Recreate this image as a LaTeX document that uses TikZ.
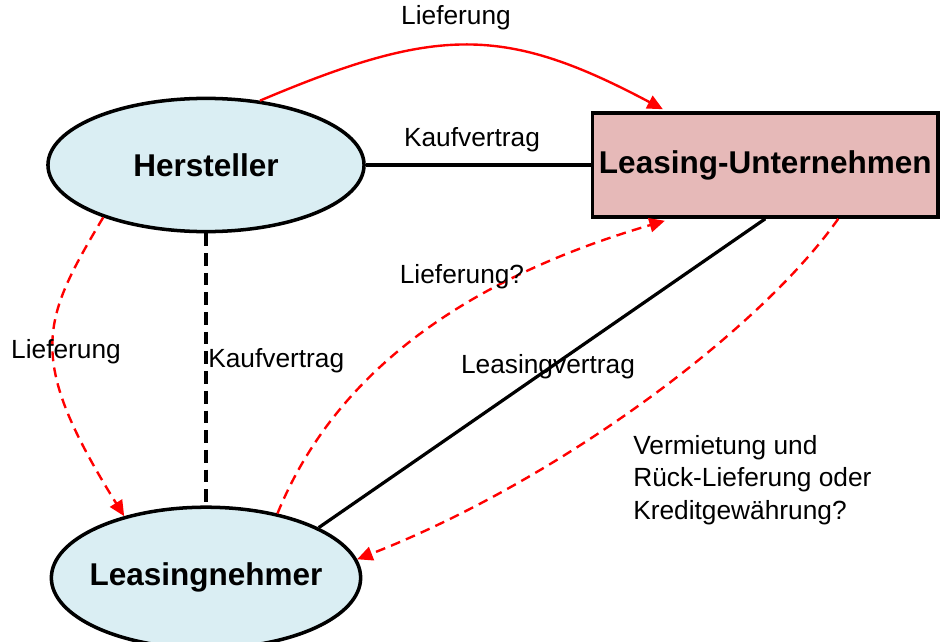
\documentclass[tikz,border=0pt]{standalone}
\usepackage{fontspec}
\setmainfont{Liberation Sans}
\usetikzlibrary{arrows.meta,calc,positioning,shapes.geometric}
\definecolor{nodeblue}{HTML}{DAEEF3}
\definecolor{firmrose}{HTML}{E6B9B8}
\tikzset{
     party/.style = {ellipse, draw, line width=2.5pt, fill=nodeblue, inner xsep=-6pt,
                     font=\fontsize{22.4pt}{26pt}\selectfont\bfseries}, % Hersteller / Leasingnehmer
      firm/.style = {rectangle, draw, line width=2.5pt, fill=firmrose, inner sep=2pt,
                     font=\fontsize{22.4pt}{26pt}\selectfont\bfseries},
       lbl/.style = {font=\fontsize{18.7pt}{23.1pt}\selectfont, inner sep=0pt},
  contract/.style = {line width=2.3pt},                                      % Vertraege
      flow/.style = {red, line width=1.7pt, -{Triangle[length=11pt,width=10pt]}}, % Lieferung
     maybe/.style = {flow, dash pattern=on 7pt off 4.5pt},
}

\begin{document}
\begin{tikzpicture}[x=0.025cm,y=0.025cm]
\useasboundingbox (0,0) rectangle (940,641);
 \node[party, minimum width=7.9cm, minimum height=3.33cm] (herst) at (206,476) {Hersteller};
 \node[party, minimum width=7.73cm, minimum height=3.53cm, below=6.8cm of herst] (nehmer) {Leasingnehmer};
 \node[firm, minimum width=8.63cm, minimum height=2.6cm, right=5.625cm of herst] (lu) {Leasing-Unternehmen};
 % Vertraege
 \draw[contract] (herst.east) -- (lu.west);
 \draw[contract, dash pattern=on 9pt off 5pt] (herst.south) -- (nehmer.north);
 \draw[contract] (nehmer.24) -- (lu.south);
 % Lieferungen
 \draw[flow] (herst.50) .. controls +(177,75) and +(-158,84) .. ($(lu.north west)+(72,2)$);
 \draw[maybe] (herst.207) .. controls +(-62,-104) and +(-99,159) .. (nehmer.143);
 \draw[maybe] (nehmer.42) .. controls +(58,142) and +(-198,-58) .. ($(lu.south west)+(74,-2)$);
 \draw[maybe] ($(lu.south)+(73,0)$) .. controls +(-78,-111) and +(202,79) .. (nehmer.7);
 \path[nodes=lbl]
    (456,623) node (lief-top) {Lieferung}
    (472,501) node (kauf-top) {Kaufvertrag}
    (66,289) node (lief-left) {Lieferung}
    (208,280) node[anchor=west] (kauf-mid) {Kaufvertrag}
    (462,364) node (lief-q) {Lieferung?}
    (548,274) node (leas) {Leasingvertrag}
    (633,161) node[anchor=west, align=left] (verm) {Vermietung und\\Rück-Lieferung oder\\Kreditgewährung?};
\end{tikzpicture}
\end{document}
